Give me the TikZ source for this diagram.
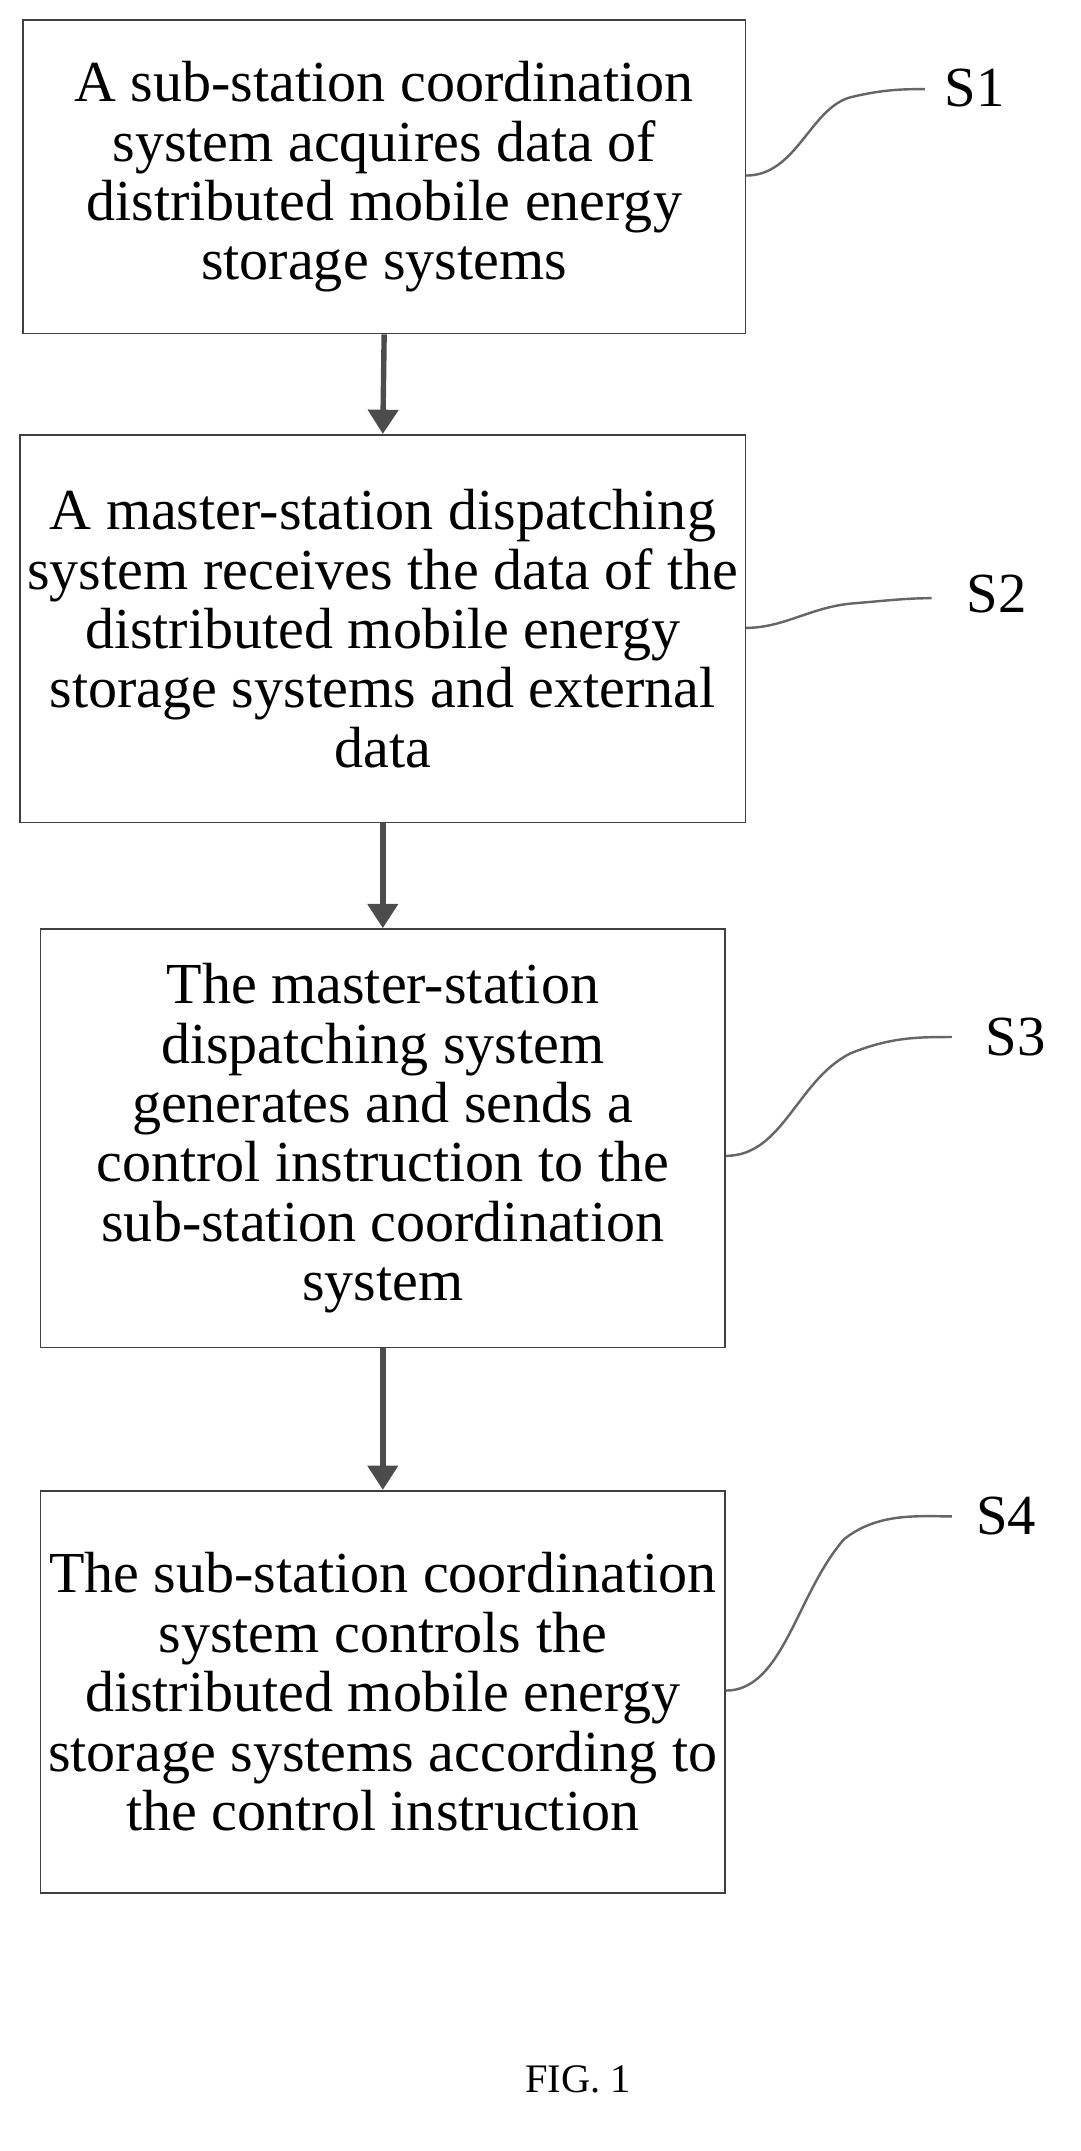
\documentclass[tikz,border=0pt]{standalone}
\usepackage{fontspec}
\setmainfont{Liberation Serif}
\usetikzlibrary{arrows.meta}
\begin{document}
\begin{tikzpicture}[x=1pt,y=-1pt,
 box/.style={draw=black!75,line width=1.2pt,align=center,font=\fontsize{43}{44}\selectfont},
 arr/.style={draw=black!70,line width=4pt,-{Triangle[length=18pt,width=22pt]}},
 sq/.style={draw=black!60,line width=1.8pt},
 lab/.style={font=\fontsize{42}{42}\selectfont}]
\useasboundingbox (0,0) rectangle (800,1593);
\node[box,minimum width=535pt,minimum height=232pt] (b1) at (284.5,131) {A sub-station coordination\\system acquires data of\\distributed mobile energy\\storage systems};
\node[box,minimum width=537pt,minimum height=287pt] (b2) at (283.5,465.5) {A master-station dispatching\\system receives the data of the\\distributed mobile energy\\storage systems and external\\data};
\node[box,minimum width=507pt,minimum height=310pt] (b3) at (283.5,843) {The master-station\\dispatching system\\generates and sends a\\control instruction to the\\sub-station coordination\\system};
\node[box,minimum width=507pt,minimum height=298pt] (b4) at (283.5,1253) {The sub-station coordination\\system controls the\\distributed mobile energy\\storage systems according to\\the control instruction};
\draw[arr] (b1.south) -- (b2.north);
\draw[arr] (b2.south) -- (b3.north);
\draw[arr] (b3.south) -- (b4.north);
\node[lab] (s1) at (722,65) {S1};
\node[lab] (s2) at (738,440) {S2};
\node[lab] (s3) at (752,768) {S3};
\node[lab] (s4) at (745,1123) {S4};
\coordinate (c1) at (b1.east|-0,130);
\coordinate (c2) at (b2.east|-0,465);
\coordinate (c3) at (b3.east|-0,856);
\coordinate (c4) at (b4.east|-0,1252);
\draw[sq] (c1) .. controls (590,130) and (600,80) .. (630,72) .. controls (655,66) and (670,66) .. (685,66);
\draw[sq] (c2) .. controls (580,465) and (600,450) .. (630,447) .. controls (655,445) and (670,443) .. (690,443);
\draw[sq] (c3) .. controls (580,856) and (590,800) .. (630,780) .. controls (660,768) and (680,768) .. (705,768);
\draw[sq] (c4) .. controls (580,1252) and (590,1180) .. (625,1140) .. controls (650,1120) and (680,1123) .. (705,1123);
\node[font=\fontsize{30}{30}\selectfont] (fig) at (428,1540) {FIG. 1};
\end{tikzpicture}
\end{document}
